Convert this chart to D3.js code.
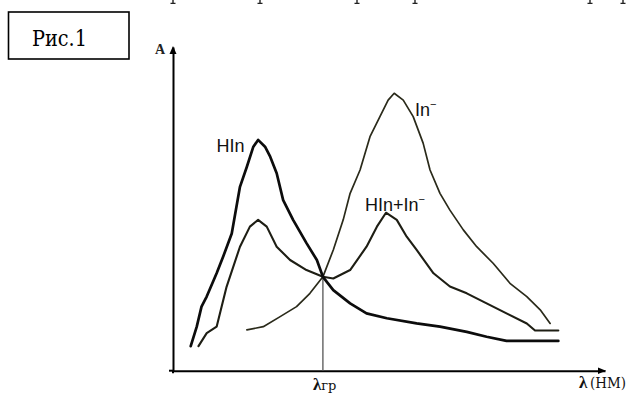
<!DOCTYPE html>
<html><head><meta charset="utf-8">
<script src="https://cdn.jsdelivr.net/npm/d3@7"></script>
<style>html,body{margin:0;padding:0;background:#fff;}svg{display:block;}</style>
</head><body>
<svg id="c" width="628" height="394"></svg>
<script>
// ---- data (arbitrary units: x 0..100 along λ, y 0..100 along A)
const hinX   = [4.1,5.5,6.6,7.8,10.1,11.6,13.6,15.5,17.1,18.6,19.7,21.3,22.5,24.0,25.5,27.8,30.9,33.3,34.7,37.1,41.0,44.8,49.5,56.4,61.8,68.0,72.6,77.2,89.2];
const hinY   = [7.6,13.6,19.8,22.9,30.1,35.2,42.4,56.8,63.0,69.2,71.3,69.2,66.1,61.0,52.7,46.6,39.4,34.2,29.0,24.9,20.8,17.7,16.2,14.6,13.6,12.0,10.5,9.2,9.2];
const mixX   = [5.9,7.8,10.1,12.4,15.5,17.8,19.7,21.7,24.0,27.1,30.9,34.7,37.1,41.0,44.8,47.2,49.3,51.8,54.1,56.4,60.3,64.1,68.0,72.6,77.2,81.9,83.8,89.2];
const mixY   = [7.6,11.6,13.6,25.9,38.3,44.5,46.6,44.5,38.3,34.2,31.1,29.0,28.5,31.1,38.3,44.5,48.8,46.6,41.4,37.3,30.1,26.0,23.9,20.8,17.7,14.6,12.4,12.4];
const inX    = [17.1,20.9,24.8,28.6,31.7,34.7,37.1,39.4,41.0,43.3,45.6,47.9,49.8,51.2,53.3,55.6,57.9,59.5,61.8,64.1,67.2,70.3,74.1,78.0,81.9,85.0,87.3];
const inY    = [12.6,13.6,16.7,19.8,23.9,29.0,37.3,46.6,54.8,62.0,72.3,78.5,83.6,85.7,83.6,78.5,70.3,62.0,54.8,49.6,43.5,38.3,33.2,27.0,22.9,18.8,14.6];
const isoX   = 34.7, isoY = 29.0;        // isosbestic point λгр
const seriesNames = ["HIn", "In", "HIn+In"];
const figLabel = "Рис.1";
const yLabel = "A";
const xLabel = "λ";
const xUnit = "(НМ)";
const isoLabel = ["λ", "гр"];

// ---- scales
const svg = d3.select("#c");
const x = d3.scaleLinear().domain([0,100]).range([173,605]);
const y = d3.scaleLinear().domain([0,100]).range([370.7,47]);
const serif = "'Liberation Serif', 'Times New Roman', serif";
const serif2 = "'DejaVu Serif', 'Liberation Serif', serif";

// remnants of a cut-off line of text at the very top (only descender stems visible)
const topP = [173,260,357,415,590,623];
svg.append("g").selectAll("path").data(topP).join("path")
  .attr("d", d=>`M${d},0 L${d},3.2 M${d-2.5},3.4 L${d+2.5},3.4`)
  .attr("stroke","#222").attr("stroke-width",1.4).attr("fill","none");

// figure label box
svg.append("rect").attr("x",8.5).attr("y",12).attr("width",120.5).attr("height",47)
  .attr("fill","none").attr("stroke","#000").attr("stroke-width",1.6);
svg.append("text").attr("x",32).attr("y",45.5)
  .style("font-family",serif2).attr("font-size",23)
  .attr("textLength",55).attr("lengthAdjust","spacingAndGlyphs")
  .attr("fill","#000").text(figLabel);

// axes (no ticks) via d3 axis generators
const gx = svg.append("g").attr("transform",`translate(0,${y(0)})`)
  .call(d3.axisBottom(x).tickValues([]).tickSizeOuter(0));
const gy = svg.append("g").attr("transform",`translate(${x(0)},0)`)
  .call(d3.axisLeft(y).tickValues([]).tickSizeOuter(0));
[gx,gy].forEach(g=>g.select(".domain").attr("stroke","#000").attr("stroke-width",2));
svg.append("line").attr("x1",x(0)-4).attr("x2",x(0)).attr("y1",y(0)).attr("y2",y(0)).attr("stroke","#000").attr("stroke-width",2);
svg.append("line").attr("x1",x(0)).attr("x2",x(0)).attr("y1",y(0)).attr("y2",y(0)+2.5).attr("stroke","#000").attr("stroke-width",2);
// arrowheads
svg.append("path").attr("d",`M${x(0)},${y(100)-1} l-3.5,8 l7,0 z`).attr("fill","#000");
svg.append("path").attr("d",`M${x(100)+1},${y(0)} l-8,-3.2 l0,6.4 z`).attr("fill","#000");

// axis labels
svg.append("text").attr("x",155).attr("y",53.5)
  .style("font-family",serif).attr("font-size",14).attr("font-weight","bold")
  .attr("fill","#222").text(yLabel);
svg.append("text").attr("x",579).attr("y",388)
  .style("font-family",serif).attr("fill","#111")
  .attr("font-size",17).attr("font-weight","bold").text(xLabel);
svg.append("text").attr("x",590).attr("y",388)
  .style("font-family",serif2).attr("fill","#111").attr("font-size",14)
  .attr("textLength",36).attr("lengthAdjust","spacingAndGlyphs").text(xUnit);

// isosbestic vertical line + label
svg.append("line").attr("x1",x(isoX)).attr("x2",x(isoX)).attr("y1",y(isoY)).attr("y2",y(0))
  .attr("stroke","#555").attr("stroke-width",1.3);
const il = svg.append("text").attr("x",x(isoX)-10).attr("y",390)
  .style("font-family",serif).attr("fill","#111");
il.append("tspan").attr("font-size",17).attr("font-weight","bold").text(isoLabel[0]);
il.append("tspan").attr("font-size",13).style("font-family",serif2).text(isoLabel[1]);

// curves
const line = d3.line().x(d=>x(d[0])).y(d=>y(d[1])).curve(d3.curveLinear);
const curves = [
  {xs:inX,  ys:inY,  w:1.7, c:"#2a2a1a"},
  {xs:mixX, ys:mixY, w:2.1, c:"#1e1e14"},
  {xs:hinX, ys:hinY, w:2.7, c:"#0c0c0c"}
];
svg.append("g").selectAll("path").data(curves).join("path")
  .attr("d",d=>line(d.xs.map((v,i)=>[v,d.ys[i]])))
  .attr("fill","none").attr("stroke",d=>d.c).attr("stroke-width",d=>d.w)
  .attr("stroke-linejoin","round").attr("stroke-linecap","round");

// curve labels
const lf = "'Liberation Sans', Arial, sans-serif";
function label(xp, yp, base, sup){
  const t = svg.append("text").attr("x",xp).attr("y",yp).style("font-family",lf).attr("font-size",18).attr("fill","#111");
  t.append("tspan").text(base);
  if (sup) t.append("tspan").attr("font-size",11).attr("dy",-8).text("−");
}
label(216.5,151.5,seriesNames[0],false);
label(415,116,seriesNames[1],true);
label(365,211,seriesNames[2],true);
</script>
</body></html>
